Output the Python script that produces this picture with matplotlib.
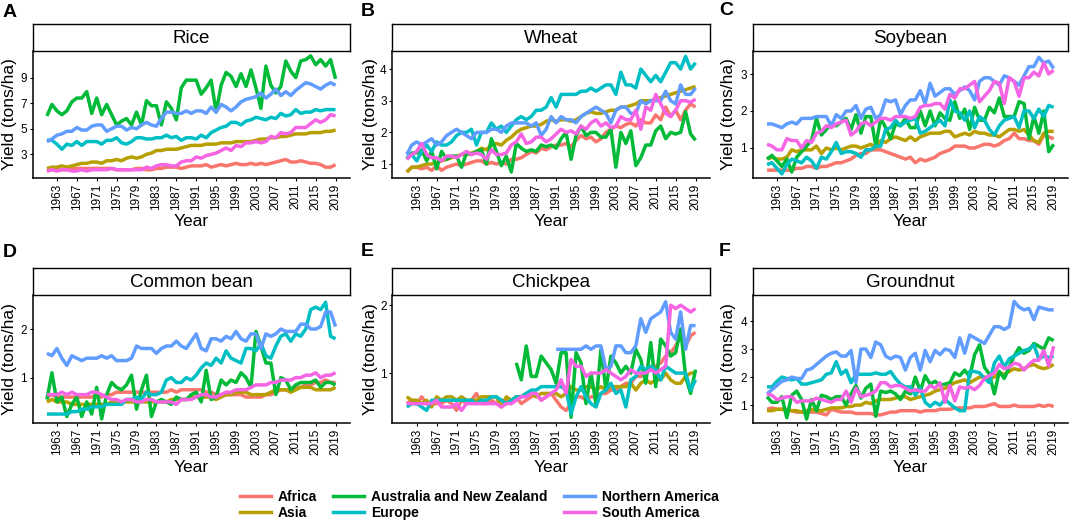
import numpy as np
import matplotlib
matplotlib.use("Agg")
import matplotlib.pyplot as plt
from matplotlib.lines import Line2D

plt.rcParams["font.family"] = ["Liberation Sans", "DejaVu Sans"]

# ---------------------------------------------------------------------
# Data: yield (tons/ha), 1961-2019
# ---------------------------------------------------------------------
years = list(range(1961, 2020))
regions = ["Africa", "Asia", "Australia and New Zealand", "Europe",
           "Northern America", "South America"]
colors = ["#F8766D", "#B79F00", "#00BA38", "#00BFC4", "#619CFF", "#F564E3"]
crops = ["Rice", "Wheat", "Soybean", "Common bean", "Chickpea", "Groundnut"]
letters = ["A", "B", "C", "D", "E", "F"]
x_ticks = list(range(1963, 2020, 4))

nan = np.nan

rice_africa = [1.7, 1.8, 1.8, 1.8, 1.8, 1.9, 1.9, 1.9, 1.9, 1.9,
               1.9, 1.9, 1.9, 1.9, 1.8, 1.8, 1.8, 1.8, 1.9, 1.9,
               1.8, 1.8, 1.9, 1.9, 2.0, 2.0, 2.0, 1.9, 2.0, 2.1,
               2.1, 2.1, 2.2, 2.0, 2.1, 2.2, 2.1, 2.2, 2.3, 2.2,
               2.2, 2.3, 2.2, 2.3, 2.2, 2.3, 2.4, 2.5, 2.6, 2.4,
               2.4, 2.5, 2.4, 2.3, 2.3, 2.2, 2.0, 2.0, 2.2]
rice_asia = [1.9, 2.0, 2.0, 2.1, 2.0, 2.1, 2.2, 2.3, 2.3, 2.4,
             2.4, 2.3, 2.5, 2.5, 2.6, 2.5, 2.7, 2.8, 2.7, 2.8,
             3.0, 3.1, 3.3, 3.3, 3.4, 3.4, 3.4, 3.5, 3.6, 3.7,
             3.7, 3.7, 3.8, 3.8, 3.8, 3.9, 3.9, 3.9, 4.0, 4.0,
             4.0, 4.0, 4.1, 4.2, 4.2, 4.3, 4.3, 4.4, 4.4, 4.5,
             4.6, 4.6, 4.6, 4.7, 4.7, 4.7, 4.8, 4.8, 4.9]
rice_aus = [6.0, 6.9, 6.4, 6.1, 6.4, 7.1, 7.4, 7.4, 7.9, 6.2,
            7.4, 6.1, 6.9, 6.1, 5.3, 5.6, 5.8, 5.3, 6.3, 5.3,
            7.2, 6.8, 6.8, 5.3, 7.1, 6.6, 5.7, 8.2, 8.8, 8.8,
            8.8, 7.7, 8.2, 8.8, 6.3, 8.4, 9.4, 9.1, 8.3, 9.3,
            8.3, 9.6, 8.2, 6.6, 9.9, 8.4, 7.8, 8.3, 10.3, 9.5,
            9.0, 10.3, 10.4, 10.7, 10.0, 10.4, 9.9, 10.4, 8.9]
rice_europe = [4.1, 4.1, 3.8, 3.4, 3.8, 3.7, 4.0, 3.7, 4.0, 4.0,
               4.0, 3.8, 4.1, 4.1, 4.3, 3.9, 3.8, 4.0, 4.3, 4.3,
               4.2, 4.2, 4.3, 4.3, 4.5, 4.3, 4.4, 4.1, 4.3, 4.3,
               4.2, 4.5, 4.3, 4.7, 4.9, 5.1, 5.2, 5.5, 5.5, 5.3,
               5.6, 5.7, 5.9, 5.8, 5.7, 5.9, 5.8, 6.2, 6.0, 6.1,
               6.5, 6.2, 6.3, 6.3, 6.5, 6.4, 6.5, 6.5, 6.5]
rice_namerica = [4.0, 4.2, 4.5, 4.6, 4.8, 4.8, 5.1, 4.9, 4.9, 5.2,
                 5.3, 5.3, 4.8, 5.0, 5.2, 5.2, 4.9, 5.1, 5.0, 5.3,
                 5.5, 5.3, 5.2, 5.8, 6.3, 6.3, 6.2, 6.2, 6.4, 6.2,
                 6.4, 6.4, 6.2, 6.7, 6.3, 6.9, 6.7, 6.4, 6.7, 7.1,
                 7.3, 7.4, 7.5, 7.8, 7.4, 7.7, 8.1, 7.6, 7.9, 7.6,
                 8.0, 8.3, 8.6, 8.5, 8.3, 8.1, 8.4, 8.6, 8.4]
rice_samerica = [1.7, 1.8, 1.7, 1.8, 1.8, 1.7, 1.7, 1.8, 1.7, 1.8,
                 1.8, 1.8, 1.8, 1.9, 1.8, 1.8, 1.8, 1.8, 1.8, 1.8,
                 2.0, 1.9, 2.1, 2.2, 2.2, 2.1, 2.1, 2.4, 2.5, 2.5,
                 2.8, 2.7, 2.9, 3.0, 3.1, 3.3, 3.5, 3.3, 3.7, 3.6,
                 3.9, 3.9, 4.0, 3.9, 4.0, 4.4, 4.3, 4.7, 4.6, 4.7,
                 5.1, 5.1, 5.1, 5.4, 5.7, 5.5, 5.7, 6.1, 6.0]

wheat_africa = [0.75, 0.9, 0.9, 0.85, 0.9, 0.8, 0.95, 0.8, 0.9, 0.95,
                1.0, 0.95, 1.0, 1.05, 1.1, 1.1, 1.0, 1.05, 1.0, 1.05,
                1.0, 1.15, 1.15, 1.2, 1.3, 1.4, 1.35, 1.5, 1.45, 1.55,
                1.6, 1.6, 1.65, 1.55, 1.75, 1.9, 1.8, 1.85, 1.7, 1.8,
                2.0, 2.1, 2.2, 2.15, 2.25, 2.3, 2.2, 2.4, 2.3, 2.3,
                2.55, 2.4, 2.8, 2.5, 2.7, 2.4, 2.7, 2.9, 2.8]
wheat_asia = [0.75, 0.9, 0.9, 0.95, 1.0, 1.0, 1.05, 1.1, 1.15, 1.2,
              1.25, 1.3, 1.3, 1.35, 1.4, 1.5, 1.45, 1.6, 1.65, 1.6,
              1.75, 1.85, 2.0, 2.1, 2.15, 2.2, 2.2, 2.25, 2.35, 2.4,
              2.35, 2.4, 2.4, 2.35, 2.4, 2.5, 2.6, 2.65, 2.6, 2.6,
              2.65, 2.7, 2.7, 2.8, 2.8, 2.85, 2.9, 3.0, 3.0, 3.0,
              3.05, 3.1, 3.15, 3.2, 3.25, 3.3, 3.35, 3.4, 3.45]
wheat_aus = [1.15, 1.35, 1.35, 1.45, 1.1, 1.4, 0.85, 1.4, 1.15, 1.25,
             1.25, 0.9, 1.35, 1.3, 1.4, 1.45, 1.0, 1.8, 1.4, 0.95,
             1.25, 0.75, 1.65, 1.5, 1.4, 1.45, 1.4, 1.6, 1.55, 1.6,
             1.5, 1.8, 2.0, 1.15, 1.9, 2.2, 1.9, 2.0, 2.0, 1.85,
             1.85, 2.1, 0.9, 2.0, 1.65, 2.05, 0.95, 1.2, 1.6, 1.6,
             2.05, 2.2, 1.8, 2.0, 1.95, 2.0, 2.65, 1.95, 1.75]
wheat_europe = [1.2, 1.3, 1.1, 1.4, 1.6, 1.4, 1.7, 1.6, 1.6, 1.7,
                1.9, 2.0, 2.0, 2.1, 1.6, 2.0, 2.0, 2.3, 2.1, 2.2,
                2.0, 2.2, 2.4, 2.5, 2.4, 2.5, 2.7, 2.7, 2.8, 3.1,
                2.8, 3.2, 3.2, 3.2, 3.2, 3.3, 3.3, 3.4, 3.3, 3.4,
                3.5, 3.5, 3.2, 3.9, 3.5, 3.5, 3.4, 4.0, 3.8, 3.6,
                3.8, 3.6, 3.9, 4.2, 4.2, 4.0, 4.4, 4.0, 4.2]
wheat_namerica = [1.3, 1.6, 1.7, 1.6, 1.7, 1.8, 1.6, 1.7, 1.9, 2.0,
                  2.1, 2.0, 1.9, 1.8, 2.0, 2.0, 2.0, 2.1, 2.1, 2.0,
                  2.2, 2.3, 2.3, 2.3, 2.3, 2.2, 2.3, 1.9, 2.1, 2.5,
                  2.3, 2.5, 2.4, 2.4, 2.3, 2.5, 2.6, 2.7, 2.8, 2.7,
                  2.6, 2.3, 2.7, 2.8, 2.8, 2.6, 2.6, 3.0, 2.9, 3.0,
                  3.0, 3.0, 3.3, 3.0, 2.9, 3.5, 3.2, 3.2, 3.4]
wheat_samerica = [1.15, 1.3, 1.4, 1.65, 1.3, 1.2, 1.2, 1.1, 1.25, 1.25,
                  1.2, 1.3, 1.4, 1.3, 1.35, 1.3, 1.15, 1.45, 1.3, 1.3,
                  1.35, 1.6, 1.7, 1.95, 1.65, 1.7, 1.85, 1.85, 1.7, 1.8,
                  1.95, 2.1, 2.0, 2.05, 1.95, 2.2, 2.1, 2.3, 2.4, 2.2,
                  2.3, 2.15, 2.2, 2.5, 2.4, 2.4, 2.7, 2.1, 2.8, 2.7,
                  3.2, 2.9, 2.6, 2.5, 2.7, 3.0, 3.0, 2.95, 3.05]

soy_africa = [0.4, 0.4, 0.4, 0.4, 0.4, 0.4, 0.45, 0.45, 0.5, 0.5,
              0.45, 0.5, 0.5, 0.55, 0.6, 0.6, 0.65, 0.7, 0.8, 0.85,
              0.85, 0.95, 0.95, 0.95, 0.9, 0.85, 0.8, 0.75, 0.7, 0.75,
              0.6, 0.7, 0.65, 0.7, 0.75, 0.85, 0.9, 0.95, 1.05, 1.05,
              1.05, 1.0, 1.0, 1.05, 1.1, 1.1, 1.05, 1.1, 1.2, 1.25,
              1.4, 1.25, 1.25, 1.2, 1.2, 1.1, 1.35, 1.3, 1.25]
soy_asia = [0.7, 0.75, 0.7, 0.7, 0.75, 0.95, 0.9, 0.95, 0.95, 0.95,
            1.05, 0.85, 1.0, 0.95, 1.0, 0.95, 1.0, 1.05, 1.05, 1.0,
            1.05, 1.1, 1.0, 1.2, 1.15, 1.25, 1.3, 1.25, 1.2, 1.3,
            1.2, 1.3, 1.35, 1.4, 1.4, 1.4, 1.45, 1.45, 1.3, 1.35,
            1.4, 1.35, 1.45, 1.4, 1.4, 1.35, 1.35, 1.3, 1.4, 1.5,
            1.5, 1.45, 1.5, 1.35, 1.2, 1.15, 1.4, 1.45, 1.45]
soy_aus = [0.7, 0.8, 0.65, 0.5, 0.7, 0.35, 0.75, 0.9, 1.05, 1.2,
           1.8, 1.35, 1.5, 1.65, 1.6, 1.7, 1.8, 1.5, 1.9, 1.4,
           1.85, 1.85, 1.05, 1.8, 1.55, 1.25, 1.65, 1.6, 1.8, 1.55,
           1.55, 2.0, 1.6, 2.0, 1.6, 1.95, 1.8, 1.75, 2.25, 1.8,
           2.05, 1.5, 2.1, 1.75, 1.75, 2.1, 1.95, 2.35, 1.85, 1.85,
           1.85, 2.25, 2.2, 1.25, 1.85, 1.4, 2.0, 0.9, 1.1]
soy_europe = [0.55, 0.6, 0.45, 0.3, 0.55, 0.7, 0.65, 0.6, 0.75, 0.65,
              0.45, 0.75, 0.7, 0.9, 1.15, 0.85, 0.9, 0.9, 0.85, 0.75,
              0.95, 0.95, 1.05, 1.05, 1.5, 1.55, 1.75, 1.6, 1.7, 1.75,
              1.8, 1.4, 1.45, 1.55, 1.65, 1.75, 1.6, 2.3, 2.0, 1.95,
              1.75, 2.0, 1.55, 1.85, 1.75, 1.5, 1.35, 1.6, 1.75, 1.8,
              1.85, 1.55, 2.0, 2.0, 1.8, 2.05, 1.85, 2.15, 2.1]
soy_namerica = [1.65, 1.65, 1.6, 1.55, 1.65, 1.7, 1.65, 1.8, 1.8, 1.8,
                1.85, 1.85, 1.85, 1.6, 1.9, 1.8, 2.0, 2.0, 2.15, 1.8,
                2.05, 2.1, 1.8, 1.9, 2.3, 2.25, 2.3, 1.9, 2.15, 2.3,
                2.3, 2.55, 2.2, 2.75, 2.4, 2.5, 2.6, 2.6, 2.45, 2.55,
                2.65, 2.55, 2.3, 2.8, 2.9, 2.9, 2.8, 2.7, 2.95, 2.9,
                2.8, 2.7, 2.95, 3.2, 3.2, 3.45, 3.3, 3.35, 3.15]
soy_samerica = [1.1, 1.05, 0.95, 0.95, 1.25, 1.2, 1.2, 1.0, 1.2, 1.15,
                1.4, 1.45, 1.6, 1.55, 1.65, 1.7, 1.75, 1.35, 1.45, 1.65,
                1.7, 1.6, 1.7, 1.8, 1.8, 1.75, 1.85, 1.85, 1.85, 1.8,
                1.85, 2.1, 2.15, 2.15, 2.2, 2.2, 2.05, 2.45, 2.35, 2.6,
                2.6, 2.7, 2.8, 2.25, 2.4, 2.55, 2.8, 2.75, 2.2, 2.9,
                2.8, 2.4, 2.9, 2.9, 3.05, 2.95, 3.3, 3.0, 3.1]

bean_africa = [0.6, 0.65, 0.6, 0.6, 0.6, 0.6, 0.6, 0.6, 0.6, 0.6,
               0.65, 0.6, 0.65, 0.65, 0.7, 0.7, 0.7, 0.7, 0.7, 0.7,
               0.7, 0.7, 0.7, 0.7, 0.7, 0.75, 0.7, 0.75, 0.75, 0.75,
               0.75, 0.75, 0.7, 0.7, 0.65, 0.65, 0.65, 0.65, 0.65, 0.65,
               0.6, 0.6, 0.6, 0.6, 0.65, 0.65, 0.7, 0.75, 0.75, 0.75,
               0.8, 0.8, 0.85, 0.85, 0.9, 0.9, 0.95, 0.9, 0.9]
bean_asia = [0.5, 0.55, 0.5, 0.5, 0.5, 0.45, 0.45, 0.45, 0.45, 0.45,
             0.45, 0.45, 0.45, 0.5, 0.5, 0.5, 0.5, 0.5, 0.5, 0.5,
             0.5, 0.5, 0.5, 0.5, 0.5, 0.55, 0.55, 0.55, 0.55, 0.6,
             0.6, 0.6, 0.6, 0.6, 0.55, 0.6, 0.65, 0.65, 0.7, 0.7,
             0.7, 0.65, 0.65, 0.65, 0.65, 0.7, 0.75, 0.75, 0.75, 0.7,
             0.75, 0.8, 0.8, 0.8, 0.75, 0.75, 0.75, 0.75, 0.8]
bean_aus = [0.55, 1.1, 0.5, 0.6, 0.2, 0.45, 0.6, 0.2, 0.5, 0.25,
            0.8, 0.15, 0.65, 0.9, 0.8, 0.75, 0.85, 1.05, 0.35, 0.75,
            1.05, 0.2, 0.5, 0.55, 0.5, 0.45, 0.6, 0.55, 0.55, 0.65,
            0.7, 0.5, 1.15, 0.55, 0.6, 0.95, 0.85, 0.95, 0.9, 1.1,
            1.0, 0.8, 1.95, 1.65, 1.3, 1.3, 0.65, 1.0, 0.95, 0.75,
            0.85, 0.9, 0.9, 0.9, 0.95, 0.8, 0.9, 0.9, 0.85]
bean_europe = [0.25, 0.25, 0.25, 0.25, 0.25, 0.3, 0.3, 0.35, 0.35, 0.4,
               0.4, 0.4, 0.45, 0.45, 0.45, 0.45, 0.55, 0.55, 0.6, 0.55,
               0.7, 0.65, 0.65, 0.7, 0.95, 1.0, 0.9, 0.9, 1.0, 0.95,
               1.05, 1.2, 1.3, 1.25, 1.4, 1.3, 1.55, 1.4, 1.35, 1.3,
               1.6, 1.6, 1.55, 1.7, 1.45, 1.4, 1.65, 1.85, 1.9, 1.75,
               1.9, 1.85, 2.0, 2.4, 2.45, 2.4, 2.55, 1.85, 1.8]
bean_namerica = [1.5, 1.45, 1.6, 1.4, 1.25, 1.45, 1.4, 1.35, 1.4, 1.4,
                 1.4, 1.45, 1.4, 1.45, 1.35, 1.35, 1.35, 1.4, 1.65, 1.6,
                 1.6, 1.6, 1.5, 1.6, 1.65, 1.65, 1.75, 1.65, 1.6, 1.75,
                 1.9, 1.6, 1.55, 1.8, 1.8, 1.75, 1.85, 1.8, 1.95, 1.8,
                 1.75, 1.9, 1.9, 1.6, 1.9, 1.85, 1.9, 2.0, 1.95, 1.95,
                 1.95, 2.1, 2.1, 2.0, 2.0, 2.05, 2.35, 2.35, 2.05]
bean_samerica = [0.65, 0.65, 0.65, 0.7, 0.65, 0.7, 0.65, 0.65, 0.65, 0.7,
                 0.7, 0.65, 0.6, 0.55, 0.55, 0.5, 0.55, 0.55, 0.5, 0.5,
                 0.55, 0.55, 0.5, 0.5, 0.5, 0.5, 0.45, 0.55, 0.55, 0.55,
                 0.6, 0.65, 0.65, 0.6, 0.6, 0.65, 0.7, 0.7, 0.75, 0.75,
                 0.75, 0.8, 0.85, 0.85, 0.85, 0.9, 0.9, 0.95, 0.95, 0.95,
                 1.0, 1.0, 1.05, 1.05, 1.1, 1.0, 1.05, 1.05, 1.1]

chick_africa = [0.55, 0.6, 0.55, 0.65, 0.55, 0.55, 0.55, 0.55, 0.6, 0.55,
                0.45, 0.6, 0.55, 0.6, 0.7, 0.55, 0.55, 0.6, 0.55, 0.6,
                0.6, 0.55, 0.65, 0.55, 0.6, 0.65, 0.7, 0.6, 0.65, 0.7,
                0.6, 0.5, 0.45, 0.55, 0.65, 0.65, 0.6, 0.65, 0.65, 0.7,
                0.7, 0.75, 0.75, 0.8, 0.85, 0.85, 0.95, 0.95, 1.0, 1.05,
                1.1, 1.15, 1.25, 1.3, 1.4, 1.55, 1.4, 1.55, 1.6]
chick_asia = [0.65, 0.6, 0.6, 0.55, 0.6, 0.5, 0.65, 0.6, 0.65, 0.65,
              0.6, 0.65, 0.6, 0.6, 0.6, 0.65, 0.65, 0.65, 0.65, 0.5,
              0.65, 0.6, 0.65, 0.65, 0.7, 0.7, 0.65, 0.7, 0.7, 0.7,
              0.7, 0.65, 0.7, 0.8, 0.75, 0.75, 0.8, 0.8, 0.75, 0.8,
              0.75, 0.8, 0.8, 0.8, 0.8, 0.85, 0.75, 0.85, 0.9, 0.85,
              0.9, 0.9, 1.0, 0.9, 0.85, 0.85, 0.95, 1.0, 1.0]
# no data before 1983
chick_aus = [nan] * 22 + [1.15, 0.9, 1.4, 0.95, 0.95, 1.25, 1.15, 1.05,
                          0.85, 1.3, 1.3, 0.35, 1.3, 1.15, 0.55, 1.0, 0.55, 1.35,
                          0.75, 1.25, 1.15, 1.0, 1.1, 1.0, 1.35, 1.2, 0.85, 1.45,
                          0.8, 1.5, 1.4, 1.25, 1.3, 1.65, 0.95, 0.7, 1.05]
chick_europe = [0.5, 0.55, 0.55, 0.5, 0.45, 0.6, 0.6, 0.6, 0.6, 0.6,
                0.6, 0.6, 0.6, 0.6, 0.55, 0.6, 0.6, 0.65, 0.65, 0.6,
                0.55, 0.6, 0.65, 0.65, 0.7, 0.75, 0.75, 0.8, 0.8, 0.8,
                0.8, 0.8, 0.75, 0.4, 0.65, 0.8, 0.65, 0.55, 0.5, 0.7,
                0.75, 0.85, 0.7, 0.75, 0.5, 0.9, 0.95, 1.1, 1.05, 1.1,
                1.05, 0.9, 1.1, 1.05, 1.0, 1.0, 1.0, 0.75, 0.9]
# no data before 1991
chick_namerica = [nan] * 30 + [1.35, 1.35, 1.35, 1.35, 1.35, 1.35, 1.4, 1.35, 1.4, 1.4,
                               1.05, 1.1, 1.4, 1.4, 1.3, 1.3, 1.4, 1.8, 1.6, 1.8,
                               1.85, 1.9, 2.05, 1.6, 1.5, 1.9, 1.35, 1.7, 1.7]
chick_samerica = [0.55, 0.55, 0.55, 0.55, 0.55, 0.55, 0.6, 0.5, 0.5, 0.5,
                  0.55, 0.45, 0.55, 0.55, 0.55, 0.55, 0.55, 0.55, 0.55, 0.5,
                  0.55, 0.55, 0.6, 0.65, 0.65, 0.7, 0.7, 0.6, 0.65, 0.7,
                  0.75, 0.9, 0.7, 1.2, 1.1, 1.1, 0.95, 1.0, 1.0, 1.0,
                  1.05, 1.0, 0.95, 0.9, 0.95, 1.05, 1.0, 1.0, 1.0, 1.05,
                  1.0, 1.05, 1.1, 2.0, 1.95, 2.0, 1.95, 1.9, 1.95]

gnut_africa = [0.85, 0.9, 0.85, 0.85, 0.85, 0.8, 0.75, 0.75, 0.75, 0.75,
               0.75, 0.7, 0.65, 0.85, 0.8, 0.75, 0.75, 0.75, 0.7, 0.7,
               0.7, 0.7, 0.65, 0.65, 0.7, 0.75, 0.75, 0.8, 0.8, 0.8,
               0.8, 0.75, 0.8, 0.8, 0.8, 0.85, 0.85, 0.85, 0.9, 0.9,
               0.9, 0.9, 0.95, 0.95, 0.95, 1.0, 1.05, 0.95, 0.95, 0.95,
               1.0, 0.95, 0.95, 0.95, 0.95, 1.0, 0.95, 1.0, 0.95]
gnut_asia = [0.8, 0.8, 0.85, 0.85, 0.8, 0.8, 0.8, 0.75, 0.8, 0.85,
             0.8, 0.8, 0.85, 0.9, 0.9, 0.9, 0.95, 0.95, 1.0, 1.0,
             1.1, 1.05, 1.15, 1.2, 1.2, 1.2, 1.25, 1.3, 1.3, 1.2,
             1.25, 1.3, 1.35, 1.4, 1.5, 1.55, 1.6, 1.7, 1.8, 1.85,
             1.9, 1.8, 1.9, 2.0, 2.0, 1.95, 2.0, 2.15, 2.1, 2.2,
             2.3, 2.25, 2.3, 2.4, 2.45, 2.35, 2.3, 2.35, 2.45]
gnut_aus = [1.3, 1.1, 1.1, 1.3, 0.55, 1.35, 1.5, 1.2, 0.5, 1.2,
            0.8, 1.35, 1.3, 1.2, 1.3, 1.3, 1.0, 1.4, 1.7, 1.25,
            1.6, 1.75, 0.6, 1.5, 1.45, 1.5, 1.4, 1.2, 1.5, 1.4,
            2.0, 1.5, 2.05, 1.75, 1.85, 1.7, 1.75, 1.8, 2.15, 2.05,
            2.25, 2.0, 2.8, 3.15, 2.35, 2.1, 1.4, 2.2, 1.95, 2.35,
            2.75, 3.05, 2.85, 2.95, 3.2, 3.1, 3.0, 3.4, 3.3]
gnut_europe = [1.65, 1.65, 1.85, 2.0, 1.95, 1.9, 1.95, 1.75, 1.75, 1.8,
               1.85, 1.9, 2.1, 2.15, 2.55, 2.1, 2.25, 1.8, 2.1, 2.1,
               2.1, 2.1, 2.15, 2.1, 2.1, 2.2, 1.95, 1.75, 1.65, 1.65,
               1.35, 1.6, 1.1, 0.95, 1.1, 1.0, 1.2, 1.05, 0.9, 0.8,
               0.8, 2.2, 2.2, 2.15, 1.95, 1.8, 2.5, 2.75, 2.35, 2.65,
               2.75, 2.85, 2.95, 3.0, 3.15, 2.65, 2.75, 2.7, 2.75]
gnut_namerica = [1.4, 1.55, 1.7, 1.85, 1.9, 2.0, 1.95, 1.95, 2.25, 2.3,
                 2.45, 2.6, 2.75, 2.85, 2.9, 2.75, 2.75, 2.95, 1.8, 3.0,
                 3.0, 2.7, 3.25, 3.15, 2.75, 2.65, 2.75, 2.7, 2.25, 2.7,
                 2.85, 2.25, 2.95, 2.55, 2.95, 2.8, 3.0, 2.95, 2.7, 3.4,
                 2.85, 3.5, 3.4, 3.3, 3.2, 3.5, 3.8, 3.8, 3.7, 3.8,
                 4.7, 4.5, 4.4, 4.45, 4.05, 4.5, 4.45, 4.4, 4.4]
gnut_samerica = [1.4, 1.35, 1.2, 1.25, 1.3, 1.3, 1.1, 1.15, 1.15, 1.15,
                 1.25, 1.2, 1.15, 1.1, 1.2, 1.2, 1.5, 1.1, 1.6, 1.3,
                 1.35, 1.4, 1.5, 1.8, 1.8, 1.65, 1.7, 1.7, 1.6, 1.5,
                 1.55, 1.5, 1.5, 1.7, 1.6, 1.8, 1.1, 1.7, 1.15, 1.65,
                 1.6, 1.65, 1.55, 1.7, 1.95, 2.05, 2.15, 2.45, 2.3, 2.35,
                 2.5, 2.45, 2.25, 2.45, 2.6, 2.6, 2.95, 2.4, 3.1]

series = {
    "Rice": [rice_africa, rice_asia, rice_aus, rice_europe, rice_namerica, rice_samerica],
    "Wheat": [wheat_africa, wheat_asia, wheat_aus, wheat_europe, wheat_namerica, wheat_samerica],
    "Soybean": [soy_africa, soy_asia, soy_aus, soy_europe, soy_namerica, soy_samerica],
    "Common bean": [bean_africa, bean_asia, bean_aus, bean_europe, bean_namerica, bean_samerica],
    "Chickpea": [chick_africa, chick_asia, chick_aus, chick_europe, chick_namerica, chick_samerica],
    "Groundnut": [gnut_africa, gnut_asia, gnut_aus, gnut_europe, gnut_namerica, gnut_samerica],
}
y_ticks = {"Rice": [3, 5, 7, 9], "Wheat": [1, 2, 3, 4], "Soybean": [1, 2, 3],
           "Common bean": [1, 2], "Chickpea": [1, 2], "Groundnut": [1, 2, 3, 4]}
y_lims = {"Rice": (1.13, 11.1), "Wheat": (0.55, 4.58), "Soybean": (0.18, 3.63),
          "Common bean": (0.06, 2.7), "Chickpea": (0.26, 2.15), "Groundnut": (0.35, 4.93)}

# ---------------------------------------------------------------------
# Layout (pixel coordinates of the reference)
# ---------------------------------------------------------------------
W, H = 1072, 526
fig = plt.figure(figsize=(W / 100, H / 100), dpi=100)


def rect(x0, y0, x1, y1):
    return [x0 / W, 1 - y1 / H, (x1 - x0) / W, (y1 - y0) / H]


cols = [(32.5, 350), (392.3, 710), (752.7, 1068)]
rows = [(24, 50.7, 178.3), (268.3, 295, 423.3)]
ylab_x = [10, 370, 729]
xlab_y = [222, 468]
letter_pos = [(3, 4), (361, 3), (719, 2), (3, 244), (361, 243), (719, 243)]

for k, crop in enumerate(crops):
    r, c = divmod(k, 3)
    x0, x1 = cols[c]
    s_top, p_top, p_bot = rows[r]

    ax = fig.add_axes(rect(x0, p_top, x1, p_bot))
    for vals, col in zip(series[crop], colors):
        ax.plot(years, vals, color=col, lw=2.5, solid_capstyle="butt")

    ax.set_xlim(1958.1, 2021.9)
    ax.set_ylim(*y_lims[crop])
    ax.set_xticks(x_ticks)
    ax.set_xticklabels([str(t) for t in x_ticks], rotation=90)
    ax.set_yticks(y_ticks[crop])
    ax.tick_params(labelsize=8.5, length=2.5, width=0.8, pad=1.5, colors="black")
    for side in ("top", "right"):
        ax.spines[side].set_visible(False)
    for side in ("left", "bottom"):
        ax.spines[side].set_linewidth(1.1)

    # facet strip
    sax = fig.add_axes(rect(x0, s_top, x1, p_top))
    sax.set_xticks([])
    sax.set_yticks([])
    for sp in sax.spines.values():
        sp.set_linewidth(1.0)
    sax.text(0.5, 0.45, crop, ha="center", va="center", fontsize=13.5,
             transform=sax.transAxes)

    fig.text(ylab_x[c] / W, 1 - (p_top + p_bot) / 2 / H, "Yield (tons/ha)",
             rotation=90, ha="center", va="center", fontsize=12.5)
    fig.text((x0 + x1) / 2 / W, 1 - xlab_y[r] / H, "Year",
             ha="center", va="center", fontsize=12.5)
    lx, ly = letter_pos[k]
    fig.text(lx / W, 1 - ly / H, letters[k], ha="left", va="top",
             fontsize=14, fontweight="bold")

handles = [Line2D([], [], color=col, lw=2.5) for col in colors]
fig.legend(handles, regions, ncol=3, loc="center",
           bbox_to_anchor=(0.447, 1 - 505 / H), frameon=False,
           prop={"weight": "bold", "size": 10}, handlelength=2.2,
           handletextpad=0.5, columnspacing=1.2, labelspacing=0.15)

fig.savefig("out.png", dpi=100)
